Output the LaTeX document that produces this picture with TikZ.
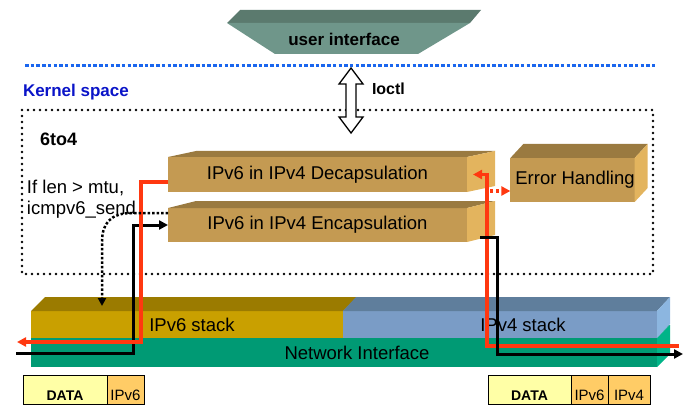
\documentclass[tikz,border=0pt]{standalone}
\usepackage{fontspec}
\setmainfont{Liberation Sans}
\usetikzlibrary{arrows.meta,calc}
\definecolor{uitop}{HTML}{5B7A6E}
\definecolor{uifront}{HTML}{6F968A}
\definecolor{tanfront}{HTML}{C49A52}
\definecolor{tantop}{HTML}{9A7A40}
\definecolor{tanside}{HTML}{E3B45E}
\definecolor{vsixfront}{HTML}{C9A000}
\definecolor{vsixtop}{HTML}{9B7B00}
\definecolor{vfourfront}{HTML}{7A9CC6}
\definecolor{vfourtop}{HTML}{5F7E9C}
\definecolor{vfourside}{HTML}{8CB6E0}
\definecolor{netfront}{HTML}{009A74}
\definecolor{netside}{HTML}{00B488}
\definecolor{redc}{HTML}{FF3810}
\definecolor{bluedash}{HTML}{1A66EE}
\definecolor{kblue}{HTML}{0A14C8}
\definecolor{datay}{HTML}{FFFFA6}
\definecolor{ipor}{HTML}{FFCC66}
\newcommand\myfs[1]{\fontsize{#1}{#1}\selectfont}
\newcommand\cubefaces[5]{%
  \fill[#4] (#1.north west) -- ++(#2,-#3) -- ($(#1.north east)+(#2,-#3)$) -- (#1.north east) -- cycle;
  \fill[#5] (#1.north east) -- ($(#1.north east)+(#2,-#3)$) -- ($(#1.south east)+(#2,-#3)$) -- (#1.south east) -- cycle;}
\begin{document}
\begin{tikzpicture}[x=1pt,y=-1pt,
  face/.style={draw=none, inner sep=0pt, outer sep=0pt},
  redl/.style={color=redc, line width=3.2pt},
  blkl/.style={color=black, line width=3pt},
  pkt/.style={draw=black, line width=0.8pt, inner sep=0pt, outer sep=0pt, minimum height=29pt, anchor=north west},
  pktdata/.style={label={[lbl, anchor=base, yshift=3.5pt, font=\bfseries\myfs{14}]south:DATA}},
  pktlab/.style={label={[lbl, anchor=base, yshift=4pt, font=\myfs{15}]south:#1}},
  tip/.style={-{Triangle[length=9pt,width=9pt]}},
  lbl/.style={inner sep=0pt, outer sep=0pt},
]
\useasboundingbox (0,0) rectangle (690,406);

% user interface
\fill[uitop] (240,10) -- (481,10) -- (470,23) -- (227,23) -- cycle;
\fill[uifront] (227,23) -- (470,23) -- (418,54) -- (275,54) -- cycle;
\node[lbl, font=\bfseries\myfs{17}] (ui) at (344,39) {user interface};

% kernel separator
\draw[bluedash, line width=3pt, dash pattern=on 3.5pt off 2.2pt] (25,66) -- (655,66);
\node[lbl, anchor=west, text=kblue, font=\bfseries\myfs{17}] (kernel) at (23,92) {Kernel space};

% 6to4 dotted box
\draw[line width=2.6pt, line cap=round, dash pattern=on 0pt off 6pt] (22,110) rectangle (653,274);
\node[lbl, anchor=west, font=\bfseries\myfs{18}] (sixtofour) at (40,139) {6to4};
\node[lbl, anchor=north west, align=left, font=\myfs{18.5}] (iflen) at (27,180)
  {If len > mtu,\\[3pt]icmpv6\_send};

% ioctl arrow
\filldraw[fill=white, draw=black, line width=1.3pt, line join=miter]
  (351,68) -- (363,84) -- (356,84) -- (356,117) -- (363,117) -- (351,133)
  -- (339,117) -- (346,117) -- (346,84) -- (339,84) -- cycle;
\node[lbl, anchor=west, font=\bfseries\myfs{16}] (ioctl) at (372,89) {Ioctl};

% 6to4 boxes
\node[face, fill=tanfront, minimum width=299pt, minimum height=35pt, font=\myfs{18.5}] (dec) at (317.5,174.5) {IPv6 in IPv4 Decapsulation};
\cubefaces{dec}{28}{6}{tantop}{tanside}
\node[face, fill=tanfront, minimum width=299pt, minimum height=34pt, font=\myfs{18.5}] (enc) at (317.5,225) {IPv6 in IPv4 Encapsulation};
\cubefaces{enc}{28}{7}{tantop}{tanside}
\node[face, fill=tanfront, minimum width=117pt, minimum height=44pt, font=\myfs{18.5}] (err) at (572.5,180) {\hspace*{5pt}Error Handling};
\cubefaces{err}{13}{14}{tantop}{tanside}

% stacks
\node[face, fill=netfront, minimum width=626pt, minimum height=29pt] (net) at (344,352.5)
  {\hspace*{26pt}\myfs{18.5}Network Interface};
\cubefaces{net}{13}{13}{netfront}{netside}
\node[face, fill=vsixfront, minimum width=312pt, minimum height=27pt] (vsix) at (187,324.5)
  {\hspace*{10pt}\myfs{18.5}IPv6 stack};
\cubefaces{vsix}{14}{14}{vsixtop}{vsixtop}
\node[face, fill=vfourfront, minimum width=314pt, minimum height=27pt] (vfour) at (500,324.5)
  {\hspace*{46pt}\myfs{18.5}IPv4 stack};
\cubefaces{vfour}{13}{14}{vfourtop}{vfourside}

% packets
\node[pkt, fill=datay, minimum width=84pt, pktdata] (dataone) at (23,375) {};
\node[pkt, fill=ipor, minimum width=37pt, pktlab=IPv6] (ipsixone) at (dataone.north east) {};
\node[pkt, fill=datay, minimum width=83pt, pktdata] (datatwo) at (488,375) {};
\node[pkt, fill=ipor, minimum width=37pt, pktlab=IPv6] (ipsixtwo) at (datatwo.north east) {};
\node[pkt, fill=ipor, minimum width=42pt, pktlab=IPv4] (ipfour) at (ipsixtwo.north east) {};

% connectors
\coordinate (blstart) at (16,353);
\coordinate (redend) at (17,342);
\coordinate (redstart) at (679,346);
\coordinate (blend) at (683,354);

% left black: into encapsulation
\draw[blkl, tip] (blstart) -| ($(enc.west)+(-35,0)$) -- (enc.west);
% left red: out of decapsulation to the left
\draw[redl, tip] ($(dec.south west)+(0,-10)$) -- ++(-27,0) |- (redend);
% dotted icmp path
\draw[line width=2.5pt, dash pattern=on 2.5pt off 2pt, -{Triangle[length=8pt,width=8pt]}]
  ($(enc.north west)+(0,5)$) -- (132,213) .. controls (110,213) and (102,224) .. (102,242) -- (102,306);
% right red: into decapsulation
\draw[redl, tip] (redstart) -- (487,346) -- (487,174.5) -- ($(dec.east)+(6,0)$);
% right black: out of encapsulation
\draw[blkl, tip] ($(enc.east)+(13,12)$) -- (497,237) |- (blend);
% red dotted to error handling
\draw[redl, dash pattern=on 3pt off 3pt, tip] (490,191) -- ($(err.south west)+(0,-11)$);
\end{tikzpicture}
\end{document}
